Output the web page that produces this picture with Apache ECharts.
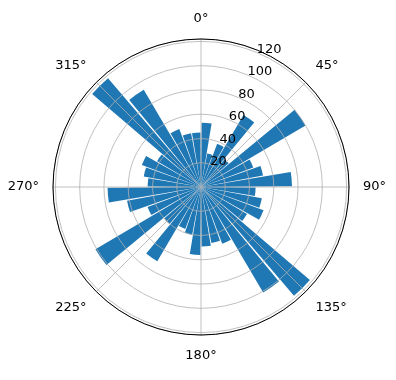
<!DOCTYPE html>
<html>
<head>
<meta charset="utf-8">
<script src="https://cdn.jsdelivr.net/npm/echarts@6/dist/echarts.min.js"></script>
<style>
  html, body { margin: 0; padding: 0; background: #fff; }
  #chart { width: 396px; height: 380px; }
</style>
</head>
<body>
<div id="chart"></div>
<script>
// 36 sectors of 10 degrees, clockwise from north
const sectors = ['0', '10', '20', '30', '40', '50', '60', '70', '80',
  '90', '100', '110', '120', '130', '140', '150', '160', '170',
  '180', '190', '200', '210', '220', '230', '240', '250', '260',
  '270', '280', '290', '300', '310', '320', '330', '340', '350'];
const counts = [53, 28, 38, 69, 30, 100, 46, 52, 75,
  45, 51, 55, 44, 118, 101, 50, 47, 49,
  56, 40, 37, 71, 40, 101, 47, 62, 77,
  44, 48, 52, 42, 118, 93, 51, 45, 45];
const radiusTicks = [20, 40, 60, 80, 100, 120];
const rMax = 122;

const font = { fontFamily: 'DejaVu Sans', fontSize: 13, color: '#000' };
const grey = { color: '#b0b0b0', width: 0.8 };

let chart = echarts.init(document.getElementById('chart'), null, { renderer: 'canvas' });

chart.setOption({
  animation: false,
  polar: [
    { center: [201, 187], radius: 148 },
    { center: [201, 187], radius: 148 },
    { center: [201, 187], radius: 148 }
  ],
  angleAxis: [
    {
      // bars
      polarIndex: 0, type: 'category', data: sectors,
      startAngle: 90, clockwise: true, boundaryGap: true,
      axisLine: { show: false }, axisTick: { show: false },
      axisLabel: { show: false }, splitLine: { show: false }
    },
    {
      // spokes, outer circle and degree labels
      polarIndex: 1, type: 'value', min: 0, max: 360, interval: 45,
      startAngle: 90, clockwise: true, z: 10,
      axisLine: { show: true, lineStyle: { color: '#000', width: 1 } },
      axisTick: { show: false },
      axisLabel: Object.assign({ margin: 14, formatter: '{value}°' }, font),
      splitLine: { show: true, lineStyle: grey }
    },
    {
      polarIndex: 2, type: 'value', min: 0, max: 360,
      startAngle: 67.5, clockwise: true,
      axisLine: { show: false }, axisTick: { show: false },
      axisLabel: { show: false }, splitLine: { show: false }
    }
  ],
  radiusAxis: [
    {
      polarIndex: 0, type: 'value', min: 0, max: rMax,
      axisLine: { show: false }, axisTick: { show: false },
      axisLabel: { show: false }, splitLine: { show: false }
    },
    {
      polarIndex: 1, type: 'value', min: 0, max: rMax, interval: 20, z: 5,
      axisLine: { show: false }, axisTick: { show: false },
      axisLabel: { show: false },
      splitLine: { show: true, lineStyle: grey }
    },
    {
      // r tick labels along 22.5 degrees
      polarIndex: 2, type: 'value', min: 0, max: rMax, interval: 20, z: 10,
      axisLine: { show: false }, axisTick: { show: false },
      splitLine: { show: false },
      axisLabel: Object.assign({
        margin: 0, rotate: 0, align: 'left', verticalAlign: 'bottom', lineHeight: 6,
        showMinLabel: false, showMaxLabel: false,
        formatter: function (v) { return radiusTicks.indexOf(v) >= 0 ? String(v) : ''; }
      }, font)
    }
  ],
  series: [{
    type: 'bar',
    coordinateSystem: 'polar',
    polarIndex: 0,
    data: counts,
    barCategoryGap: '10%',
    itemStyle: { color: '#1f77b4' },
    z: 2
  }]
});
</script>
</body>
</html>
